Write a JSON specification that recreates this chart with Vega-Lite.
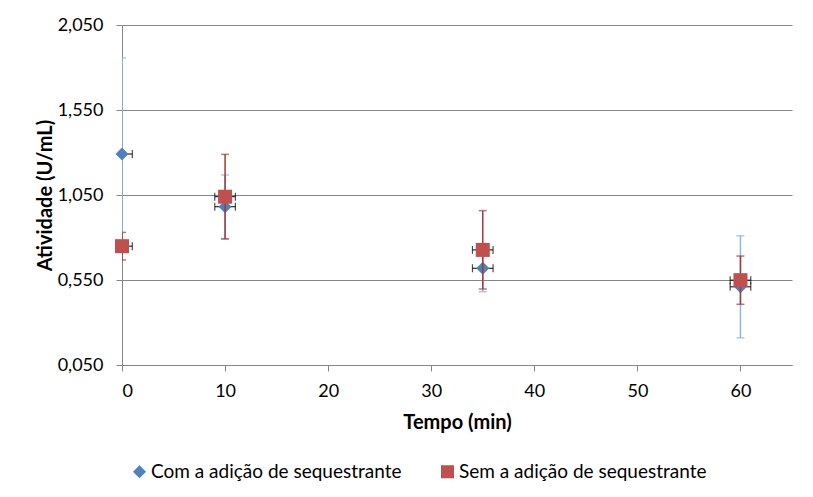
{
  "$schema": "https://vega.github.io/schema/vega-lite/v6.json",
  "width": 670,
  "height": 340,
  "autosize": {"type": "none"},
  "padding": {"left": 122, "top": 25, "right": 21, "bottom": 132},
  "background": "white",
  "config": {
    "font": "Lato",
    "view": {"stroke": null},
    "axis": {
      "domainColor": "#868686",
      "tickColor": "#868686",
      "tickSize": 6,
      "labelFontSize": 18,
      "labelColor": "#000000",
      "titleFontSize": 20,
      "titleFontWeight": "bold",
      "titleColor": "#000000",
      "gridColor": "#868686"
    },
    "legend": {
      "labelFontSize": 19,
      "labelColor": "#000000",
      "labelLimit": 0,
      "symbolSize": 170,
      "symbolStrokeWidth": 0
    }
  },
  "data": {
    "values": [
      {"serie": "Com a adição de sequestrante", "t": 0, "v": 1.291, "lo": 0.726, "hi": 1.856, "tlo": -1, "thi": 1},
      {"serie": "Com a adição de sequestrante", "t": 10, "v": 0.981, "lo": 0.794, "hi": 1.168, "tlo": 9, "thi": 11},
      {"serie": "Com a adição de sequestrante", "t": 35, "v": 0.619, "lo": 0.481, "hi": 0.757, "tlo": 34, "thi": 36},
      {"serie": "Com a adição de sequestrante", "t": 60, "v": 0.51, "lo": 0.21, "hi": 0.81, "tlo": 59, "thi": 61},
      {"serie": "Sem a adição de sequestrante", "t": 0, "v": 0.749, "lo": 0.668, "hi": 0.83, "tlo": -1, "thi": 1},
      {"serie": "Sem a adição de sequestrante", "t": 10, "v": 1.04, "lo": 0.791, "hi": 1.289, "tlo": 9, "thi": 11},
      {"serie": "Sem a adição de sequestrante", "t": 35, "v": 0.727, "lo": 0.497, "hi": 0.958, "tlo": 34, "thi": 36},
      {"serie": "Sem a adição de sequestrante", "t": 60, "v": 0.549, "lo": 0.407, "hi": 0.691, "tlo": 59, "thi": 61}
    ]
  },
  "layer": [
    {
      "transform": [{"filter": "datum.serie == 'Com a adição de sequestrante'"}],
      "mark": {"type": "rule", "color": "#8DB4E2", "strokeWidth": 1.5, "clip": true},
      "encoding": {
        "x": {"field": "t", "type": "quantitative", "scale": {"domain": [0, 65], "nice": false},
          "axis": {"values": [0, 10, 20, 30, 40, 50, 60], "grid": false, "title": "Tempo (min)", "labelPadding": 11, "titlePadding": 12}},
        "y": {"field": "lo", "type": "quantitative", "scale": {"domain": [0.05, 2.05], "nice": false, "zero": false},
          "axis": {"values": [0.05, 0.55, 1.05, 1.55, 2.05], "grid": true, "title": "Atividade (U/mL)", "labelPadding": 13, "titlePadding": 2,
            "labelExpr": "replace(format(datum.value, '.3f'), '.', ',')"}},
        "y2": {"field": "hi"}
      }
    },
    {
      "transform": [{"filter": "datum.serie == 'Com a adição de sequestrante'"}],
      "mark": {"type": "tick", "orient": "horizontal", "color": "#8DB4E2", "size": 8, "thickness": 1.5, "clip": true},
      "encoding": {"x": {"field": "t", "type": "quantitative"}, "y": {"field": "lo", "type": "quantitative"}}
    },
    {
      "transform": [{"filter": "datum.serie == 'Com a adição de sequestrante'"}],
      "mark": {"type": "tick", "orient": "horizontal", "color": "#8DB4E2", "size": 8, "thickness": 1.5, "clip": true},
      "encoding": {"x": {"field": "t", "type": "quantitative"}, "y": {"field": "hi", "type": "quantitative"}}
    },
    {
      "transform": [{"filter": "datum.serie == 'Com a adição de sequestrante'"}],
      "mark": {"type": "rule", "color": "#000000", "strokeWidth": 1, "clip": true},
      "encoding": {"x": {"field": "tlo", "type": "quantitative"}, "x2": {"field": "thi"}, "y": {"field": "v", "type": "quantitative"}}
    },
    {
      "transform": [{"filter": "datum.serie == 'Com a adição de sequestrante'"}],
      "mark": {"type": "tick", "orient": "vertical", "color": "#000000", "size": 8, "thickness": 1.2, "clip": true},
      "encoding": {"x": {"field": "tlo", "type": "quantitative"}, "y": {"field": "v", "type": "quantitative"}}
    },
    {
      "transform": [{"filter": "datum.serie == 'Com a adição de sequestrante'"}],
      "mark": {"type": "tick", "orient": "vertical", "color": "#000000", "size": 8, "thickness": 1.2, "clip": true},
      "encoding": {"x": {"field": "thi", "type": "quantitative"}, "y": {"field": "v", "type": "quantitative"}}
    },
    {
      "transform": [{"filter": "datum.serie == 'Com a adição de sequestrante'"}],
      "mark": {"type": "point", "filled": true, "opacity": 1, "size": 169},
      "encoding": {
        "x": {"field": "t", "type": "quantitative"},
        "y": {"field": "v", "type": "quantitative"},
        "color": {"field": "serie", "type": "nominal",
          "scale": {"domain": ["Com a adição de sequestrante", "Sem a adição de sequestrante"], "range": ["#4F81BD", "#C0504D"]},
          "legend": {"title": null, "orient": "none", "legendX": 8, "legendY": 437, "direction": "horizontal", "columnPadding": 36, "labelOffset": 2}},
        "shape": {"field": "serie", "type": "nominal",
          "scale": {"domain": ["Com a adição de sequestrante", "Sem a adição de sequestrante"], "range": ["diamond", "square"]}}
      }
    },
    {
      "transform": [{"filter": "datum.serie == 'Sem a adição de sequestrante'"}],
      "mark": {"type": "rule", "color": "#A33B38", "strokeWidth": 1.5, "clip": true},
      "encoding": {"x": {"field": "t", "type": "quantitative"}, "y": {"field": "lo", "type": "quantitative"}, "y2": {"field": "hi"}}
    },
    {
      "transform": [{"filter": "datum.serie == 'Sem a adição de sequestrante'"}],
      "mark": {"type": "tick", "orient": "horizontal", "color": "#A33B38", "size": 8, "thickness": 1.5, "clip": true},
      "encoding": {"x": {"field": "t", "type": "quantitative"}, "y": {"field": "lo", "type": "quantitative"}}
    },
    {
      "transform": [{"filter": "datum.serie == 'Sem a adição de sequestrante'"}],
      "mark": {"type": "tick", "orient": "horizontal", "color": "#A33B38", "size": 8, "thickness": 1.5, "clip": true},
      "encoding": {"x": {"field": "t", "type": "quantitative"}, "y": {"field": "hi", "type": "quantitative"}}
    },
    {
      "transform": [{"filter": "datum.serie == 'Sem a adição de sequestrante'"}],
      "mark": {"type": "rule", "color": "#000000", "strokeWidth": 1, "clip": true},
      "encoding": {"x": {"field": "tlo", "type": "quantitative"}, "x2": {"field": "thi"}, "y": {"field": "v", "type": "quantitative"}}
    },
    {
      "transform": [{"filter": "datum.serie == 'Sem a adição de sequestrante'"}],
      "mark": {"type": "tick", "orient": "vertical", "color": "#000000", "size": 8, "thickness": 1.2, "clip": true},
      "encoding": {"x": {"field": "tlo", "type": "quantitative"}, "y": {"field": "v", "type": "quantitative"}}
    },
    {
      "transform": [{"filter": "datum.serie == 'Sem a adição de sequestrante'"}],
      "mark": {"type": "tick", "orient": "vertical", "color": "#000000", "size": 8, "thickness": 1.2, "clip": true},
      "encoding": {"x": {"field": "thi", "type": "quantitative"}, "y": {"field": "v", "type": "quantitative"}}
    },
    {
      "transform": [{"filter": "datum.serie == 'Sem a adição de sequestrante'"}],
      "mark": {"type": "point", "filled": true, "opacity": 1, "size": 196},
      "encoding": {
        "x": {"field": "t", "type": "quantitative"},
        "y": {"field": "v", "type": "quantitative"},
        "color": {"field": "serie", "type": "nominal"},
        "shape": {"field": "serie", "type": "nominal"}
      }
    }
  ]
}
